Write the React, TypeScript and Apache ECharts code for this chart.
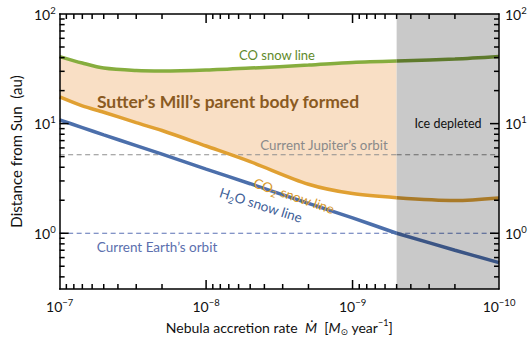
import React, { useEffect, useRef } from 'react';
import * as echarts from 'echarts';

// Nebula accretion rate (Msun/yr) sample points
const mdot = [1e-7, 7e-8, 5e-8, 3e-8, 2e-8, 1e-8, 5e-9, 2e-9, 1e-9, 5e-10, 2e-10, 1e-10];
// Snow line distances (au)
const coSnow = [40.9, 35.7, 32.1, 30.5, 30.2, 30.8, 32.1, 34.2, 36.1, 37.2, 38.8, 40.9];
const co2Snow = [17.5, 14.5, 12.7, 10.2, 8.65, 6.25, 4.5, 2.8, 2.3, 2.11, 1.99, 2.1];
const h2oSnow = [10.8, 9.2, 7.9, 6.3, 5.26, 3.84, 2.83, 1.87, 1.38, 1.0, 0.7, 0.54];
const jupiterOrbit = 5.2;
const earthOrbit = 1.0;
const iceDepletedBelow = 5e-10;
const xRange = [1e-10, 1e-7];
const yRange = [0.31, 100];
const minorMultipliers = [2, 3, 4, 5, 6, 7, 8, 9];
const xDecades = [1e-10, 1e-9, 1e-8];
const yDecades = [0.1, 1, 10];
const xMajor = [1e-9, 1e-8];
const yMajor = [1, 10];

const FONT = 'Lato, "Open Sans", "DejaVu Sans", sans-serif';

const xMinor: number[] = [];
xDecades.forEach((d) => minorMultipliers.forEach((m) => xMinor.push(m * d)));
const yMinor: number[] = [];
yDecades.forEach((d) =>
  minorMultipliers.forEach((m) => {
    const v = m * d;
    if (v > yRange[0] && v < yRange[1]) yMinor.push(v);
  })
);

const expLabel = (v: number) => {
  const l = Math.log10(v);
  const e = Math.round(l);
  if (Math.abs(l - e) > 1e-6) return '';
  const s = e < 0 ? '\u2212' + Math.abs(e) : String(e);
  return '{b|10}{s|' + s + '}';
};

const tickRich = {
  b: { fontSize: 14, lineHeight: 18, color: '#111', fontFamily: FONT },
  s: { fontSize: 9.5, lineHeight: 10, verticalAlign: 'top', color: '#111', fontFamily: FONT },
};

const brightPart = (ys: number[]) =>
  mdot.map((x, i) => [x, ys[i]]).filter((p) => p[0] >= iceDepletedBelow);
const depletedPart = (ys: number[]) =>
  mdot.map((x, i) => [x, ys[i]]).filter((p) => p[0] <= iceDepletedBelow);

const COL = {
  green: '#86ad3e',
  greenDark: '#5e7a2c',
  orange: '#e0a032',
  orangeDark: '#a97a28',
  blue: '#4c6fab',
  blueDark: '#3b5585',
  jup: '#8e8e8e',
  jupDark: '#6a6a6a',
  earth: '#5b72b5',
  earthDark: '#465a90',
  fill: '#f9dfc5',
  gray: '#c9c9c9',
};

export default function App() {
  const ref = useRef<HTMLDivElement>(null);
  useEffect(() => {
    document.body.style.margin = '0';
    const chart = echarts.init(ref.current!, null, { renderer: 'svg' });
    const axisCommon = {
      type: 'log',
      logBase: 10,
      z: 10,
      axisLine: { show: true, lineStyle: { color: '#000', width: 1.5 } },
      axisTick: { show: false },
      splitLine: { show: false },
      minorTick: { show: false },
    };
    const lineSeries = (name: string, data: number[][], color: string, width: number, z: number, dash?: number[]) => ({
      type: 'line',
      name,
      data,
      smooth: dash ? false : 0.3,
      showSymbol: false,
      symbol: 'none',
      z,
      lineStyle: { color, width, type: dash || 'solid' },
      xAxisIndex: 0,
      yAxisIndex: 0,
    });
    const flat = (v: number, bright: boolean) =>
      bright ? [[xRange[1], v], [iceDepletedBelow, v]] : [[iceDepletedBelow, v], [xRange[0], v]];
    const option: any = {
      animation: false,
      textStyle: { fontFamily: FONT },
      grid: { left: 56, top: 14, right: 32, bottom: 57, containLabel: false },
      xAxis: [
        {
          ...axisCommon,
          position: 'bottom',
          inverse: true,
          min: xRange[0],
          max: xRange[1],
          axisLabel: { formatter: expLabel, rich: tickRich, margin: 8 },
          name: 'Nebula accretion rate  {i|\u1E40}  [{i|M}{sub|\u2299} year{sup|\u22121}]',
          nameLocation: 'middle',
          nameGap: 29,
          nameTextStyle: {
            fontSize: 14,
            color: '#111',
            fontFamily: FONT,
            rich: {
              i: { fontSize: 14, fontStyle: 'italic', fontFamily: FONT, color: '#111', lineHeight: 18 },
              sub: { fontSize: 9, verticalAlign: 'bottom', lineHeight: 10, fontFamily: '"DejaVu Sans"', color: '#111' },
              sup: { fontSize: 9, verticalAlign: 'top', lineHeight: 10, fontFamily: FONT, color: '#111' },
            },
          },
        },
        {
          ...axisCommon,
          position: 'top',
          inverse: true,
          min: xRange[0],
          max: xRange[1],
          axisLabel: { show: false },
        },
      ],
      yAxis: [
        {
          ...axisCommon,
          position: 'left',
          min: yRange[0],
          max: yRange[1],
          axisLabel: { formatter: expLabel, rich: tickRich, margin: 4 },
          name: 'Distance from Sun  (au)',
          nameLocation: 'middle',
          nameGap: 30,
          nameTextStyle: { fontSize: 15, color: '#111', fontFamily: FONT },
        },
        {
          ...axisCommon,
          position: 'right',
          min: yRange[0],
          max: yRange[1],
          axisLabel: { formatter: expLabel, rich: tickRich, margin: 6 },
        },
      ],
      series: [
        {
          type: 'custom',
          name: 'formed',
          z: 1,
          silent: true,
          data: [[iceDepletedBelow, 1]],
          renderItem: (_p: any, api: any) => {
            const pts: number[][] = [];
            for (let i = 0; i < mdot.length; i++)
              if (mdot[i] >= iceDepletedBelow) pts.push(api.coord([mdot[i], coSnow[i]]));
            for (let i = mdot.length - 1; i >= 0; i--)
              if (mdot[i] >= iceDepletedBelow) pts.push(api.coord([mdot[i], co2Snow[i]]));
            return { type: 'polygon', shape: { points: pts }, style: { fill: COL.fill } };
          },
        },
        {
          type: 'custom',
          name: 'ice depleted',
          z: 1,
          silent: true,
          data: [[iceDepletedBelow, 1]],
          renderItem: (_p: any, api: any) => {
            const a = api.coord([iceDepletedBelow, yRange[1]]);
            const b = api.coord([xRange[0], yRange[0]]);
            return {
              type: 'rect',
              shape: { x: a[0], y: a[1], width: b[0] - a[0], height: b[1] - a[1] },
              style: { fill: COL.gray },
            };
          },
        },
        lineSeries("Current Jupiter's orbit", flat(jupiterOrbit, true), COL.jup, 1.2, 3, [5, 3.5]),
        lineSeries("Current Jupiter's orbit (depleted)", flat(jupiterOrbit, false), COL.jupDark, 1.2, 3, [5, 3.5]),
        lineSeries("Current Earth's orbit", flat(earthOrbit, true), COL.earth, 1.2, 3, [5, 3.5]),
        lineSeries("Current Earth's orbit (depleted)", flat(earthOrbit, false), COL.earthDark, 1.2, 3, [5, 3.5]),
        lineSeries('CO snow line', brightPart(coSnow), COL.green, 3.5, 4),
        lineSeries('CO snow line (depleted)', depletedPart(coSnow), COL.greenDark, 3.5, 4),
        lineSeries('CO2 snow line', brightPart(co2Snow), COL.orange, 3.5, 4),
        lineSeries('CO2 snow line (depleted)', depletedPart(co2Snow), COL.orangeDark, 3.5, 4),
        lineSeries('H2O snow line', brightPart(h2oSnow), COL.blue, 3.5, 4),
        lineSeries('H2O snow line (depleted)', depletedPart(h2oSnow), COL.blueDark, 3.5, 4),
        {
          type: 'custom',
          name: 'axis ticks',
          z: 12,
          silent: true,
          clip: false,
          data: [[iceDepletedBelow, 1]],
          renderItem: (_p: any, api: any) => {
            const children: any[] = [];
            const seg = (x1: number, y1: number, x2: number, y2: number) => ({
              type: 'polyline',
              shape: { points: [[x1, y1], [x2, y2]] },
              style: { stroke: '#000', lineWidth: 1.5, fill: null },
            });
            const addX = (v: number, L: number) => {
              const bt = api.coord([v, yRange[0]]);
              const tp = api.coord([v, yRange[1]]);
              children.push(seg(bt[0], bt[1], bt[0], bt[1] - L));
              children.push(seg(tp[0], tp[1], tp[0], tp[1] + L));
            };
            const addY = (v: number, L: number) => {
              const l = api.coord([xRange[1], v]);
              const r = api.coord([xRange[0], v]);
              children.push(seg(l[0], l[1], l[0] + L, l[1]));
              children.push(seg(r[0], r[1], r[0] - L, r[1]));
            };
            xMinor.forEach((v) => addX(v, 5));
            xMajor.forEach((v) => addX(v, 9));
            yMinor.forEach((v) => addY(v, 5));
            yMajor.forEach((v) => addY(v, 9));
            return { type: 'group', children };
          },
        },
      ],
      graphic: [
        {
          type: 'text',
          x: 277,
          y: 55,
          z: 20,
          style: { text: 'CO snow line', fill: '#5f8a2a', fontSize: 13, fontFamily: FONT, align: 'center', verticalAlign: 'middle' },
        },
        {
          type: 'text',
          x: 228,
          y: 101,
          z: 20,
          style: {
            text: "Sutter\u2019s Mill\u2019s parent body formed",
            fill: '#8a5a22',
            fontSize: 17.5,
            fontWeight: 'bold',
            fontFamily: FONT,
            align: 'center',
            verticalAlign: 'middle',
          },
        },
        {
          type: 'text',
          x: 448,
          y: 123,
          z: 20,
          style: { text: 'Ice depleted', fill: '#111', fontSize: 12.5, fontFamily: FONT, align: 'center', verticalAlign: 'middle' },
        },
        {
          type: 'text',
          x: 324,
          y: 145,
          z: 20,
          style: { text: "Current Jupiter\u2019s orbit", fill: '#8a8a8a', fontSize: 13.3, fontFamily: FONT, align: 'center', verticalAlign: 'middle' },
        },
        {
          type: 'text',
          x: 157,
          y: 247,
          z: 20,
          style: { text: "Current Earth\u2019s orbit", fill: '#5b6fae', fontSize: 13.5, fontFamily: FONT, align: 'center', verticalAlign: 'middle' },
        },
        {
          type: 'text',
          x: 294,
          y: 196,
          z: 20,
          rotation: -0.33,
          style: {
            text: '{a|CO}{s|2}{a| snow line}',
            fill: COL.orange,
            align: 'center',
            verticalAlign: 'middle',
            rich: {
              a: { fontSize: 13.5, lineHeight: 18, fill: '#d99a2c', fontFamily: FONT },
              s: { fontSize: 9, lineHeight: 10, verticalAlign: 'bottom', fill: '#d99a2c', fontFamily: FONT },
            },
          },
        },
        {
          type: 'text',
          x: 261,
          y: 205,
          z: 20,
          rotation: -0.31,
          style: {
            text: '{a|H}{s|2}{a|O snow line}',
            fill: COL.blue,
            align: 'center',
            verticalAlign: 'middle',
            rich: {
              a: { fontSize: 13.5, lineHeight: 18, fill: '#3f5f98', fontFamily: FONT },
              s: { fontSize: 9, lineHeight: 10, verticalAlign: 'bottom', fill: '#3f5f98', fontFamily: FONT },
            },
          },
        },
      ],
    };
    chart.setOption(option);
    return () => chart.dispose();
  }, []);
  return (
    <div
      ref={ref}
      style={{ position: 'fixed', left: 0, top: 0, width: 531, height: 346, background: '#fff' }}
    />
  );
}
